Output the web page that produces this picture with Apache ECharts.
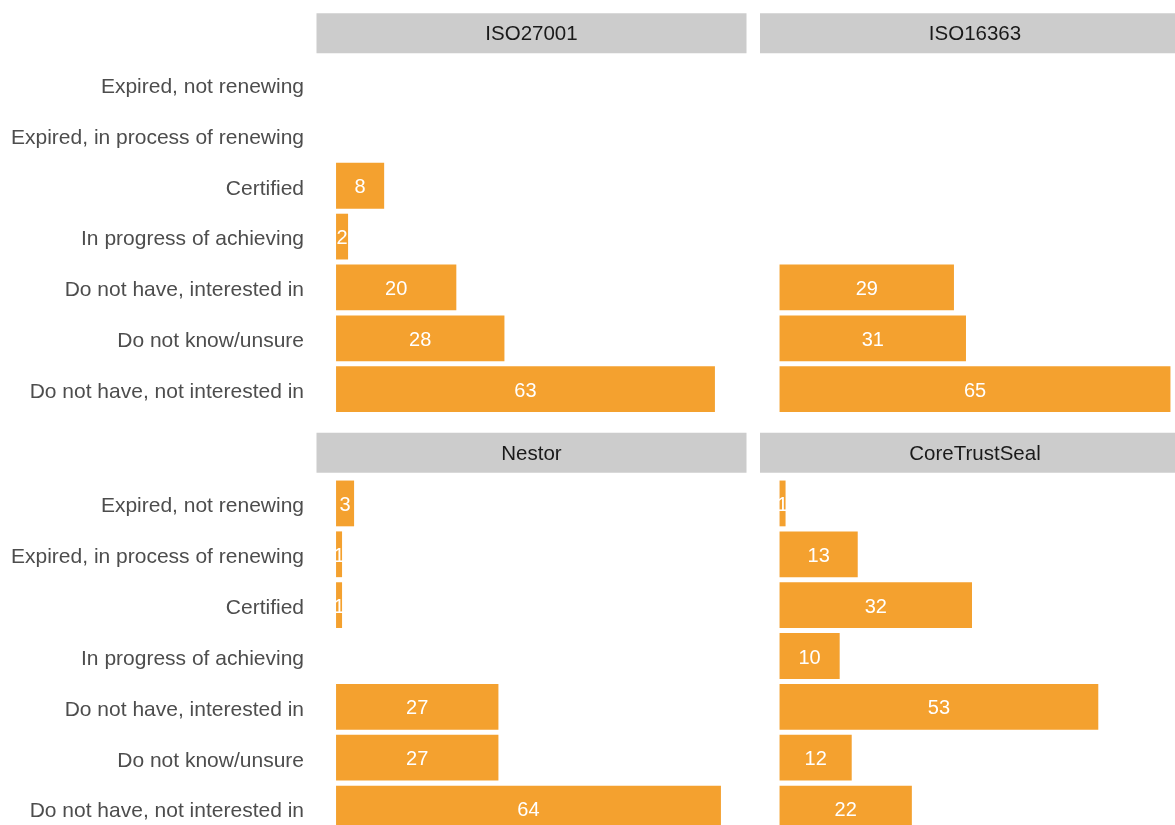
<!DOCTYPE html>
<html>
<head>
<meta charset="utf-8">
<script src="https://cdn.jsdelivr.net/npm/echarts@6/dist/echarts.min.js"></script>
<style>
html,body{margin:0;padding:0;background:#fff;overflow:hidden;}
#wrap{width:1175px;height:825px;overflow:hidden;position:relative;}
#chart{width:1200px;height:850px;position:absolute;left:0;top:0;}
</style>
</head>
<body>
<div id="wrap"><div id="chart"></div></div>
<script>
// Categories, top to bottom
var categories = [
  'Expired, not renewing',
  'Expired, in process of renewing',
  'Certified',
  'In progress of achieving',
  'Do not have, interested in',
  'Do not know/unsure',
  'Do not have, not interested in'
];
var panelTitles = ['ISO27001', 'ISO16363', 'Nestor', 'CoreTrustSeal'];
var iso27001 = [null, null, 8, 2, 20, 28, 63];
var iso16363 = [null, null, null, null, 29, 31, 65];
var nestor = [3, 1, 1, null, 27, 27, 64];
var coreTrustSeal = [1, 13, 32, 10, 53, 12, 22];
var xMin = -3.25, xMax = 68.25;

var panelData = [iso27001, iso16363, nestor, coreTrustSeal];
var FONT = 'Liberation Sans, Arial, Helvetica, sans-serif';
var BAR = '#F4A12F';

var lefts = [316.5, 760, 316.5, 760];
var tops = [58.6, 58.6, 478, 478];
var W = 430, H = 356;

var grids = [], xAxes = [], yAxes = [], series = [], graphics = [];
for (var i = 0; i < 4; i++) {
  grids.push({left: lefts[i], top: tops[i], width: W, height: H, containLabel: false});
  xAxes.push({type: 'value', gridIndex: i, min: xMin, max: xMax, show: false, splitLine: {show: false}});
  yAxes.push({
    type: 'category', gridIndex: i, data: categories, inverse: true,
    axisLine: {show: false}, axisTick: {show: false}, splitLine: {show: false},
    axisLabel: {
      show: i % 2 === 0, margin: 12.5,
      formatter: function (v) { return '{t|' + v + '}'; },
      rich: {t: {fontSize: 21, color: '#4D4D4D', fontFamily: FONT, padding: [6, 0, 0, 0]}}
    }
  });
  series.push({
    type: 'bar', xAxisIndex: i, yAxisIndex: i, data: panelData[i],
    barCategoryGap: '10%', itemStyle: {color: BAR},
    label: {
      show: true, position: 'inside',
      formatter: function (p) { return '{t|' + p.value + '}'; },
      rich: {t: {color: '#FFFFFF', fontSize: 20, fontFamily: FONT, padding: [4, 0, 0, 0]}}
    },
    silent: true
  });
  graphics.push({
    type: 'rect', shape: {x: lefts[i], y: tops[i] - 45.3, width: W, height: 40},
    style: {fill: '#CCCCCC'}
  });
  graphics.push({
    type: 'text', x: lefts[i] + W / 2, y: tops[i] - 24,
    style: {text: panelTitles[i], fill: '#1A1A1A', fontSize: 20.5, fontFamily: FONT, textAlign: 'center', textVerticalAlign: 'middle'}
  });
}

var chart = echarts.init(document.getElementById('chart'), null, {renderer: 'canvas'});
chart.setOption({
  animation: false,
  backgroundColor: '#FFFFFF',
  grid: grids,
  xAxis: xAxes,
  yAxis: yAxes,
  series: series,
  graphic: graphics
});
</script>
</body>
</html>
